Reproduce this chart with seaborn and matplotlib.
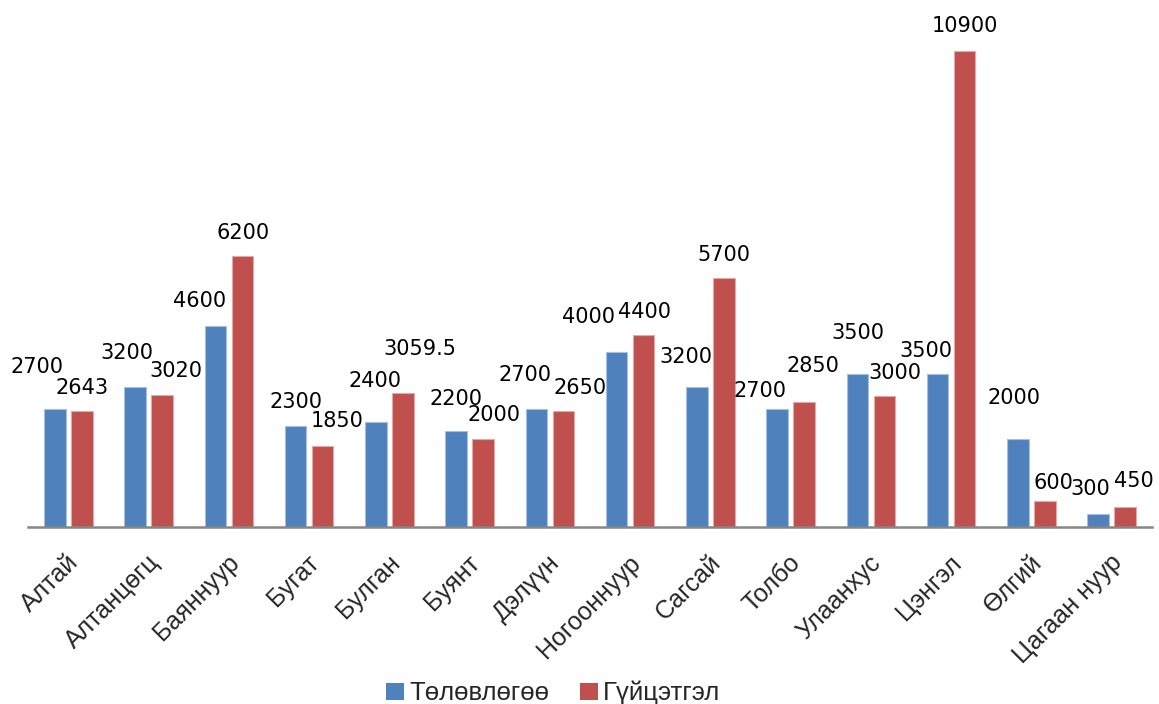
import matplotlib
matplotlib.use("Agg")
import matplotlib.pyplot as plt
import matplotlib.transforms as mtransforms
from matplotlib.patches import Patch
import seaborn as sns
import pandas as pd

# ---- data ----
categories = ["Алтай", "Алтанцөгц", "Баяннуур", "Бугат", "Булган", "Буянт", "Дэлүүн",
              "Ногооннуур", "Сагсай", "Толбо", "Улаанхус", "Цэнгэл", "Өлгий", "Цагаан нуур"]
series_names = ["Төлөвлөгөө", "Гүйцэтгэл"]
plan_values = [2700, 3200, 4600, 2300, 2400, 2200, 2700, 4000, 3200, 2700, 3500, 3500, 2000, 300]
actual_values = [2643, 3020, 6200, 1850, 3059.5, 2000, 2650, 4400, 5700, 2850, 3000, 10900, 600, 450]

# ---- label placement (pixel offsets from bar top centre) ----
plan_label_offsets = [(-18, 42), (-8, 34), (-16, 25), (0, 24), (-1, 41), (0, 32), (-11, 34),
                      (-28, 35), (-11, 30), (-17, 18), (1, 41), (-12, 23), (-4, 41), (-8, 25)]
actual_label_offsets = [(0, 23), (14, 24), (1, 23), (14, 25), (17, 44), (11, 24), (17, 23),
                        (1, 23), (0, 23), (9, 36), (11, 23), (0, 25), (9, 18), (9, 26)]

BLUE = "#4F81BD"
RED = "#C0504D"

df = pd.DataFrame({
    "category": categories * 2,
    "series": [series_names[0]] * len(categories) + [series_names[1]] * len(categories),
    "value": plan_values + actual_values,
})

sns.set_style("white")
plt.rcParams["font.family"] = ["Liberation Sans", "DejaVu Sans"]

fig = plt.figure(figsize=(11.59, 7.04), dpi=100)
ax = fig.add_axes([0.02442, 0.2518, 0.9693, 0.7442])

sns.barplot(data=df, x="category", y="value", hue="series", order=categories,
            hue_order=series_names, palette=[BLUE, RED], width=0.673, gap=0.2,
            ax=ax, legend=False, errorbar=None, saturation=1)

edge_colors = ["#A7C0E0", "#E3A9A7"]
for cont, ecol in zip(ax.containers, edge_colors):
    for p in cont:
        p.set_edgecolor(ecol)
        p.set_linewidth(0.8)

# data labels
for cont, vals, offs in zip(ax.containers, [plan_values, actual_values],
                            [plan_label_offsets, actual_label_offsets]):
    for p, v, (dx, dy) in zip(cont, vals, offs):
        txt = f"{v:g}"
        ax.annotate(txt, xy=(p.get_x() + p.get_width() / 2, p.get_height()),
                    xytext=(dx, dy), textcoords="offset pixels",
                    ha="center", va="center", fontsize=15,
                    family=["DejaVu Sans"], color="black")

ax.set_xlim(-0.5, 13.5)
ax.set_ylim(0, 12000)
ax.set_xlabel("")
ax.set_ylabel("")
ax.set_yticks([])
for s in ["top", "left", "right"]:
    ax.spines[s].set_visible(False)
ax.spines["bottom"].set_color("#868686")
ax.spines["bottom"].set_linewidth(1.8)
ax.tick_params(axis="x", length=0, pad=17)
ax.set_xticks(range(len(categories)))
ax.set_xticklabels(categories, fontsize=18)
offset = mtransforms.ScaledTranslation(-2 / 100, 0, fig.dpi_scale_trans)
for lab in ax.get_xticklabels():
    lab.set_rotation(45)
    lab.set_ha("right")
    lab.set_rotation_mode("anchor")
    lab.set_transform(lab.get_transform() + offset)

handles = [Patch(facecolor=BLUE, edgecolor="none"), Patch(facecolor=RED, edgecolor="none")]
fig.legend(handles, series_names, loc="center", bbox_to_anchor=(0.4775, 0.0156),
           ncol=2, frameon=False, fontsize=18.5, handlelength=0.7, handleheight=0.62,
           handletextpad=0.2, columnspacing=1.2, borderaxespad=0, borderpad=0)

fig.savefig("out.png", dpi=100)
